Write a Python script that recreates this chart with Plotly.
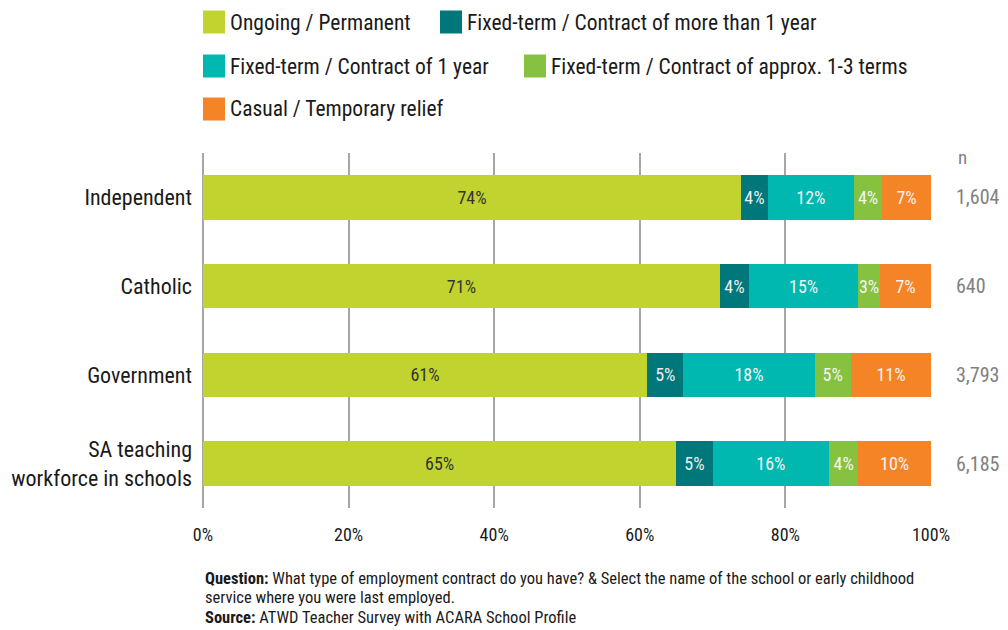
import plotly.graph_objects as go

# ---- data ----
categories = ["Independent", "Catholic", "Government", "SA teaching<br>workforce in schools"]
series_names = [
    "Ongoing / Permanent",
    "Fixed-term / Contract of more than 1 year",
    "Fixed-term / Contract of 1 year",
    "Fixed-term / Contract of approx. 1-3 terms",
    "Casual / Temporary relief",
]
ongoing = [73.9, 71.0, 61.0, 65.0]
fixed_more_1yr = [3.7, 4.0, 5.0, 5.0]
fixed_1yr = [11.8, 15.0, 18.0, 16.0]
fixed_terms = [3.9, 3.0, 5.0, 4.0]
casual = [6.7, 7.0, 11.0, 10.0]
n_values = ["1,604", "640", "3,793", "6,185"]
x_ticks = [0, 20, 40, 60, 80, 100]
x_tick_labels = [f"{v}%" for v in x_ticks]

series_values = [ongoing, fixed_more_1yr, fixed_1yr, fixed_terms, casual]
colors = ["#C1D32F", "#00777A", "#00B8B0", "#86C240", "#F58426"]
text_colors = ["#333333", "#eeeeee", "#f4f4f4", "#f4f4f4", "#f4f4f4"]

FONT = "Liberation Sans Narrow, Roboto Condensed, Arial Narrow, Roboto, sans-serif"
W, H = 1008, 630
L, R, T, B = 203, 77, 153, 122
PW, PH = W - L - R, H - T - B


def px_x(x):
    return (x - L) / PW


def px_y(y):
    return (H - B - y) / PH


fig = go.Figure()
for name, vals, col, tcol in zip(series_names, series_values, colors, text_colors):
    fig.add_trace(go.Bar(
        y=categories, x=vals, name=name, orientation="h",
        marker=dict(color=col, line=dict(width=0)),
        width=0.5,
        texttemplate="%{x:.0f}%", textposition="inside",
        insidetextanchor="middle", textangle=0,
        textfont=dict(family=FONT, size=18, color=tcol),
        showlegend=False, hoverinfo="skip",
    ))

# legend drawn as swatches + labels
legend_slots = [(203, 22), (440, 22), (203, 66), (524, 66), (203, 109)]
for (sx, sy), name, col in zip(legend_slots, series_names, colors):
    fig.add_shape(type="rect", xref="paper", yref="paper",
                  x0=px_x(sx), x1=px_x(sx + 22), y0=px_y(sy + 11.5), y1=px_y(sy - 11.5),
                  fillcolor=col, line=dict(width=0))
    fig.add_annotation(xref="paper", yref="paper", x=px_x(sx + 25), y=px_y(sy),
                       xanchor="left", yanchor="middle", showarrow=False,
                       text=name, font=dict(family=FONT, size=21.5, color="#1a1a1a"))

# sample sizes column
fig.add_annotation(xref="paper", yref="paper", x=px_x(956), y=px_y(157),
                   xanchor="left", yanchor="middle", showarrow=False,
                   text="n", font=dict(family=FONT, size=19, color="#808080"))
for cat, n in zip(categories, n_values):
    fig.add_annotation(xref="paper", yref="y", x=px_x(954), y=cat,
                       xanchor="left", yanchor="middle", showarrow=False,
                       text=n, font=dict(family=FONT, size=20, color="#808080"))

# footnotes
notes = [
    "<b>Question:</b> What type of employment contract do you have? & Select the name of the school or early childhood",
    "service where you were last employed.",
    "<b>Source:</b> ATWD Teacher Survey with ACARA School Profile",
]
for i, line in enumerate(notes):
    fig.add_annotation(xref="paper", yref="paper", x=0, y=px_y(578 + i * 19.5),
                       xanchor="left", yanchor="middle", showarrow=False,
                       text=line, font=dict(family=FONT, size=16.5, color="#1a1a1a"))

fig.update_layout(
    barmode="stack",
    width=W, height=H, autosize=False,
    margin=dict(l=L, r=R, t=T, b=B),
    paper_bgcolor="white", plot_bgcolor="white",
    font=dict(family=FONT, color="#1a1a1a"),
    uniformtext=dict(minsize=18, mode="show"),
    xaxis=dict(range=[0, 100], tickmode="array", tickvals=x_ticks, ticktext=x_tick_labels,
               showgrid=True, gridcolor="#a6a6a6", gridwidth=1.5,
               zeroline=True, zerolinecolor="#a6a6a6", zerolinewidth=1.5,
               showline=False, ticks="", ticklabelstandoff=14,
               tickfont=dict(family=FONT, size=18, color="#1a1a1a"),
               fixedrange=True),
    yaxis=dict(categoryorder="array", categoryarray=categories, autorange="reversed",
               showgrid=False, zeroline=False, showline=False, ticks="",
               ticklabelstandoff=10,
               tickfont=dict(family=FONT, size=22, color="#1a1a1a"),
               fixedrange=True),
)

fig.write_html("out.html")
